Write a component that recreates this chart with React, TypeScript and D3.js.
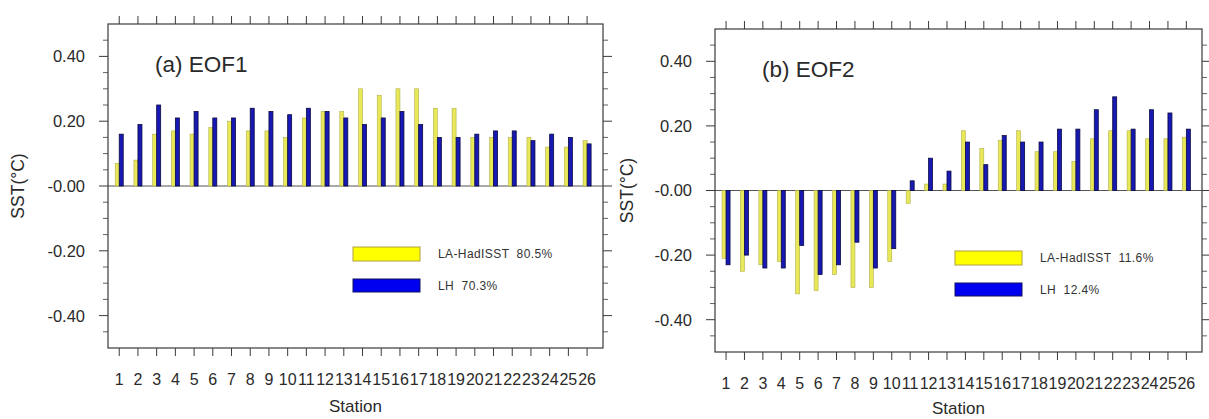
import React from "react";
import * as d3 from "d3";

const stations = [1,2,3,4,5,6,7,8,9,10,11,12,13,14,15,16,17,18,19,20,21,22,23,24,25,26];
const eof1Had = [0.07,0.08,0.16,0.17,0.16,0.18,0.20,0.17,0.17,0.15,0.21,0.23,0.23,0.30,0.28,0.30,0.30,0.24,0.24,0.15,0.15,0.15,0.15,0.12,0.12,0.14];
const eof1LH = [0.16,0.19,0.25,0.21,0.23,0.21,0.21,0.24,0.23,0.22,0.24,0.23,0.21,0.19,0.21,0.23,0.19,0.15,0.15,0.16,0.17,0.17,0.14,0.16,0.15,0.13];
const eof2Had = [-0.21,-0.25,-0.23,-0.22,-0.32,-0.31,-0.26,-0.30,-0.30,-0.22,-0.04,0.02,0.02,0.185,0.13,0.155,0.185,0.12,0.12,0.09,0.16,0.185,0.185,0.16,0.16,0.165];
const eof2LH = [-0.23,-0.20,-0.24,-0.24,-0.17,-0.26,-0.23,-0.16,-0.24,-0.18,0.03,0.10,0.06,0.15,0.08,0.17,0.15,0.15,0.19,0.19,0.25,0.29,0.19,0.25,0.24,0.19];
const yMajor = [0.4, 0.2, 0, -0.2, -0.4];
const yMajorLabels = ["0.40", "0.20", "-0.00", "-0.20", "-0.40"];
const yMinor = [0.45,0.35,0.3,0.25,0.15,0.1,0.05,-0.05,-0.1,-0.15,-0.25,-0.3,-0.35,-0.45];
const legendA = ["LA-HadISST  80.5%", "LH  70.3%"];
const legendB = ["LA-HadISST  11.6%", "LH  12.4%"];

const FONT = "'Liberation Sans', Arial, Helvetica, sans-serif";
const AX = "#3a3a3a";
const YEL = "#e8e858";
const YEL_S = "#b0b048";
const BLU = "#1818b4";
const BLU_S = "#0a0a40";

type PanelProps = {
  left: number; right: number; top: number; bottom: number;
  had: number[]; lh: number[]; title: string; titleX: number; titleY: number;
  legend: string[]; legX: number; legY: number; ylabX: number; stationY: number;
};

function Panel(p: PanelProps) {
  const x = d3.scaleLinear().domain([0.4, 26.85]).range([p.left, p.right]);
  const y = d3.scaleLinear().domain([-0.5, 0.5]).range([p.bottom, p.top]);
  const bw = 4;
  const midY = (p.top + p.bottom) / 2;
  const midX = (p.left + p.right) / 2;
  return (
    <g>
      <line x1={p.left} x2={p.right} y1={y(0)} y2={y(0)} stroke="#555" strokeWidth={1} />
      {stations.map((s, i) => (
        <g key={s}>
          <rect x={x(s) - bw} width={bw} y={Math.min(y(p.had[i]), y(0))} height={Math.abs(y(p.had[i]) - y(0))}
            fill={YEL} stroke={YEL_S} strokeWidth={0.6} />
          <rect x={x(s)} width={bw} y={Math.min(y(p.lh[i]), y(0))} height={Math.abs(y(p.lh[i]) - y(0))}
            fill={BLU} stroke={BLU_S} strokeWidth={0.8} />
        </g>
      ))}
      <rect x={p.left} y={p.top} width={p.right - p.left} height={p.bottom - p.top} fill="none" stroke={AX} strokeWidth={1.2} />
      {stations.map((s) => (
        <g key={"t" + s}>
          <line x1={x(s)} x2={x(s)} y1={p.top} y2={p.top - 8} stroke={AX} strokeWidth={1} />
          <line x1={x(s)} x2={x(s)} y1={p.bottom} y2={p.bottom + 8} stroke={AX} strokeWidth={1} />
          <text x={x(s)} y={p.bottom + 37} fontSize={16} textAnchor="middle" fill="#2a2a2a" fontFamily={FONT}>{s}</text>
        </g>
      ))}
      {yMajor.map((v, i) => (
        <g key={"y" + v}>
          <line x1={p.left} x2={p.left - 9} y1={y(v)} y2={y(v)} stroke={AX} strokeWidth={1} />
          <line x1={p.right} x2={p.right + 9} y1={y(v)} y2={y(v)} stroke={AX} strokeWidth={1} />
          <text x={p.left - 23} y={y(v)} dy="0.36em" fontSize={16.5} textAnchor="end" fill="#2a2a2a" fontFamily={FONT}>{yMajorLabels[i]}</text>
        </g>
      ))}
      {yMinor.map((v) => (
        <g key={"m" + v}>
          <line x1={p.left} x2={p.left - 5} y1={y(v)} y2={y(v)} stroke={AX} strokeWidth={0.8} />
          <line x1={p.right} x2={p.right + 5} y1={y(v)} y2={y(v)} stroke={AX} strokeWidth={0.8} />
        </g>
      ))}
      <text x={p.titleX} y={p.titleY} fontSize={22.5} fill="#2a2a2a" fontFamily={FONT}>{p.title}</text>
      <text x={midX} y={p.stationY} fontSize={17} textAnchor="middle" fill="#2a2a2a" fontFamily={FONT}>Station</text>
      <text transform={`translate(${p.ylabX},${midY}) rotate(-90)`} fontSize={17.5} textAnchor="middle" dy="0.35em" fill="#2a2a2a" fontFamily={FONT}>SST(°C)</text>
      <rect x={p.legX} y={p.legY} width={67} height={14} fill="#ffff00" stroke="#b0a040" strokeWidth={1} />
      <rect x={p.legX} y={p.legY + 32} width={67} height={13} fill="#0000f0" stroke="#101060" strokeWidth={1} />
      <text x={p.legX + 85} y={p.legY + 7} dy="0.35em" fontSize={12} letterSpacing={0.4} fill="#333" fontFamily={FONT} style={{ whiteSpace: "pre" }}>{p.legend[0]}</text>
      <text x={p.legX + 85} y={p.legY + 38.5} dy="0.35em" fontSize={12} letterSpacing={0.4} fill="#333" fontFamily={FONT} style={{ whiteSpace: "pre" }}>{p.legend[1]}</text>
    </g>
  );
}

export default function App() {
  return (
    <svg width={1209} height={419} style={{ position: "absolute", left: 0, top: 0, background: "#fff" }}>
      <rect x={0} y={0} width={1209} height={419} fill="#fff" />
      <Panel left={108} right={603} top={24} bottom={348} had={eof1Had} lh={eof1LH}
        title="(a) EOF1" titleX={155} titleY={72} legend={legendA} legX={353} legY={247} ylabX={18} stationY={412} />
      <Panel left={715} right={1202} top={29} bottom={352} had={eof2Had} lh={eof2LH}
        title="(b) EOF2" titleX={762} titleY={77} legend={legendB} legX={955} legY={251} ylabX={627} stationY={414} />
    </svg>
  );
}
